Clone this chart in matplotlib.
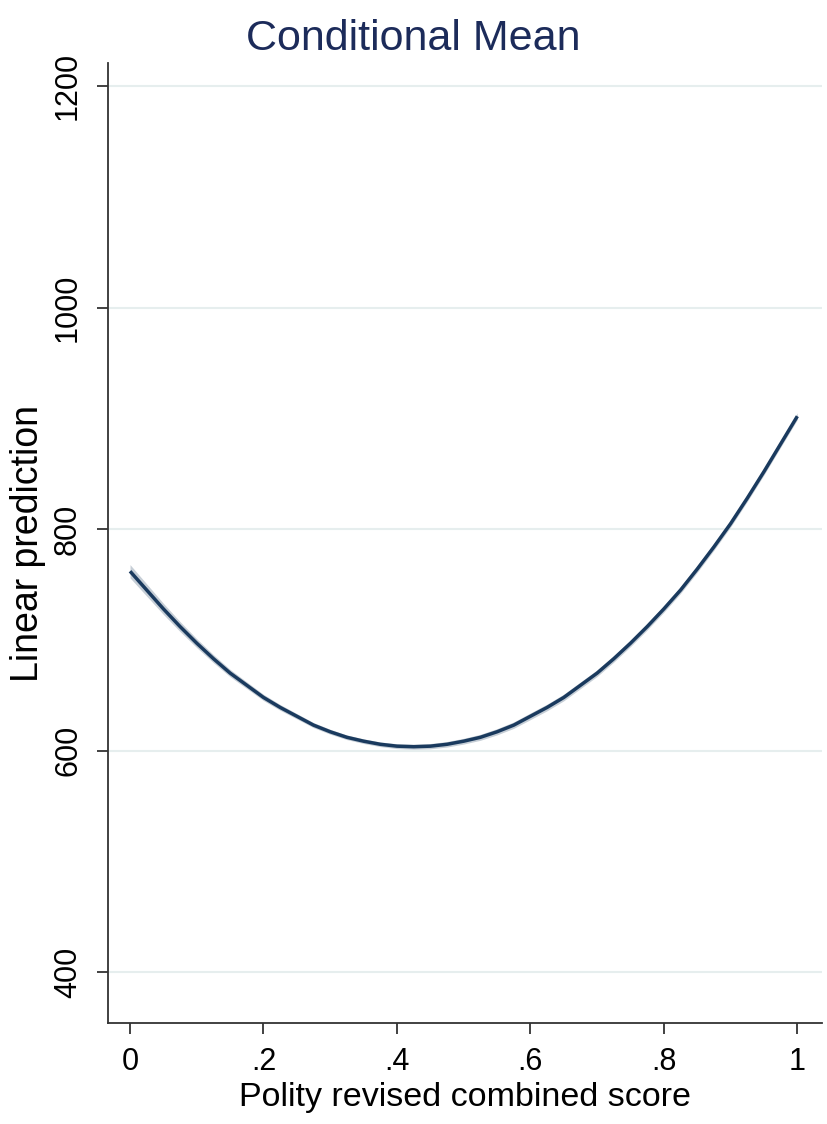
import matplotlib
matplotlib.use("Agg")
import matplotlib.pyplot as plt
import numpy as np

# -- Data ---------------------------------------------------------------------
polity = [0.0, 0.025, 0.05, 0.075, 0.1, 0.125, 0.15, 0.175, 0.2, 0.225,
          0.25, 0.275, 0.3, 0.325, 0.35, 0.375, 0.4, 0.425, 0.45, 0.475,
          0.5, 0.525, 0.55, 0.575, 0.6, 0.625, 0.65, 0.675, 0.7, 0.725,
          0.75, 0.775, 0.8, 0.825, 0.85, 0.875, 0.9, 0.925, 0.95, 0.975, 1.0]
prediction = [762, 745, 728, 712, 697, 683, 670, 659, 648, 639,
              631, 623, 617, 612, 608.5, 605.7, 604, 603.5, 604, 605.7,
              608.5, 612, 617, 623, 631, 639, 648, 659, 670, 683,
              697, 712, 728, 745, 764, 784, 805, 828, 852, 877, 902]
# half-width of the 95% band around the prediction
ci_half = [6, 5.5, 5, 4.5, 4, 3.6, 3.3, 3, 2.8, 2.6,
           2.4, 2.3, 2.2, 2.1, 2.1, 2.1, 2.2, 2.3, 2.4, 2.5,
           2.6, 2.7, 2.8, 2.9, 3, 3, 3, 3, 3, 3,
           3, 3, 3, 3, 3, 3, 3, 3, 3, 3, 3]

y_ticks = [400, 600, 800, 1000, 1200]
x_ticks = [0, 0.2, 0.4, 0.6, 0.8, 1.0]
x_tick_labels = ["0", ".2", ".4", ".6", ".8", "1"]

NAVY = "#1a3a5e"
TITLE_COLOR = "#1c2b5a"

plt.rcParams["font.family"] = ["Liberation Sans", "DejaVu Sans"]

fig = plt.figure(figsize=(8.27, 11.24), dpi=100)
ax = fig.add_axes([0.1306, 0.0899, 0.8634, 0.854])

for y in y_ticks:
    ax.axhline(y, color="#e6eeee", lw=1.5, zorder=0)

pred = np.array(prediction)
half = np.array(ci_half)
ax.fill_between(polity, pred - half, pred + half, color="#b8c2cc", alpha=0.8,
                lw=0, zorder=1)
ax.plot(polity, prediction, color=NAVY, lw=2.5, solid_capstyle="butt", zorder=2)

ax.set_xlim(-0.033, 1.037)
ax.set_ylim(354, 1221)

ax.set_xticks(x_ticks)
ax.set_xticklabels(x_tick_labels)
ax.set_yticks(y_ticks)
ax.set_yticklabels([str(v) for v in y_ticks], rotation=90, va="center")

ax.tick_params(axis="both", direction="out", length=8, width=1.3, color="#333333",
               labelsize=22, labelcolor="black")
ax.tick_params(axis="x", pad=9)
ax.tick_params(axis="y", pad=10)

for side in ("top", "right"):
    ax.spines[side].set_visible(False)
for side in ("left", "bottom"):
    ax.spines[side].set_linewidth(1.3)
    ax.spines[side].set_color("#333333")

ax.set_xlabel("Polity revised combined score", fontsize=24.5, labelpad=4)
ax.set_ylabel("Linear prediction", fontsize=27, labelpad=5)
fig.suptitle("Conditional Mean", fontsize=31, color=TITLE_COLOR, x=0.5, y=0.983)

fig.savefig("out.png", dpi=100)
